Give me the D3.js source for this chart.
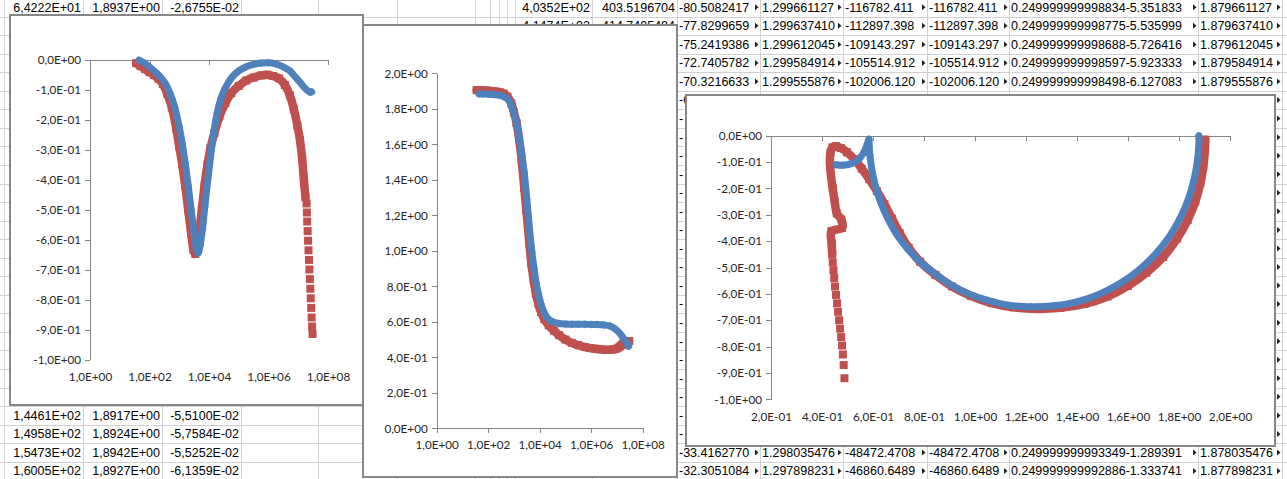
<!DOCTYPE html>
<html>
<head>
<meta charset="utf-8">
<script src="https://cdn.jsdelivr.net/npm/d3@7"></script>
<style>
body { margin: 0; background: #fff; }
svg { display: block; }
</style>
</head>
<body>
<script>
// ---- spreadsheet behind the charts ----
var colEdges = [4, 83, 162, 241, 318, 397, 475, 490, 499, 507, 515, 592, 677, 760, 843, 927, 1009, 1198, 1282, 1300];
var leftTopRow = ["6,4222E+01", "1,8937E+00", "-2,6755E-02"];
var leftBottomRows = [
	["1,4461E+02", "1,8917E+00", "-5,5100E-02"],
	["1,4958E+02", "1,8924E+00", "-5,7584E-02"],
	["1,5473E+02", "1,8942E+00", "-5,5252E-02"],
	["1,6005E+02", "1,8927E+00", "-6,1359E-02"]];
var midTopRows = [["4,0352E+02", "403.5196704"], ["4,1474E+02", "414.7405494"]];
var rightTopRows = [
	["-80.5082417", "1.299661127", "-116782.411", "-116782.411", "0.249999999998834-5.351833", "1.879661127"],
	["-77.8299659", "1.299637410", "-112897.398", "-112897.398", "0.249999999998775-5.535999", "1.879637410"],
	["-75.2419386", "1.299612045", "-109143.297", "-109143.297", "0.249999999998688-5.726416", "1.879612045"],
	["-72.7405782", "1.299584914", "-105514.912", "-105514.912", "0.249999999998597-5.923333", "1.879584914"],
	["-70.3216633", "1.299555876", "-102006.120", "-102006.120", "0.249999999998498-6.127083", "1.879555876"],
	["-67.9823851", "1.299524707", "-98612.8459", "-98612.8459", "0.249999999998393-6.337916", "1.879524707"]];
var rightBottomRows = [
	["-33.4162770", "1.298035476", "-48472.4708", "-48472.4708", "0.249999999993349-1.289391", "1.878035476"],
	["-32.3051084", "1.297898231", "-46860.6489", "-46860.6489", "0.249999999992886-1.333741", "1.877898231"]];

// ---- chart data: frequency sweeps (Hz), real and imaginary parts ----
var freqBlue = [44.7, 63.1, 100, 158, 251, 355, 501, 708, 1000, 1259, 1585, 1995, 2512, 3162, 3802, 4365, 5012, 6026, 7244, 8913,
	11220, 14130, 18620, 25120, 35480, 56230, 1.0e5, 1.778e5, 3.162e5, 5.623e5, 1.0e6, 1.778e6, 3.162e6, 5.248e6, 7.943e6, 1.148e7, 1.585e7, 2.089e7, 2.512e7, 2.818e7];
var imBlue = [-0.002, -0.010, -0.025, -0.042, -0.062, -0.083, -0.115, -0.160, -0.225, -0.280, -0.345, -0.420, -0.500, -0.580, -0.635, -0.645, -0.620, -0.565, -0.490, -0.410,
	-0.325, -0.250, -0.180, -0.130, -0.095, -0.062, -0.038, -0.024, -0.016, -0.012, -0.011, -0.015, -0.025, -0.038, -0.058, -0.076, -0.093, -0.104, -0.109, -0.108];
var reBlue = [1.884, 1.884, 1.882, 1.880, 1.878, 1.872, 1.862, 1.835, 1.775, 1.720, 1.645, 1.550, 1.440, 1.290, 1.160, 1.070, 0.990, 0.900, 0.820, 0.760,
	0.700, 0.660, 0.627, 0.608, 0.597, 0.590, 0.587, 0.586, 0.586, 0.586, 0.585, 0.585, 0.582, 0.577, 0.563, 0.543, 0.518, 0.493, 0.475, 0.462];

var freqRed = [35.5, 50.1, 70.8, 100, 141, 200, 282, 398, 562, 794, 1000, 1259, 1585, 1995, 2512, 3020, 3467, 3981, 4786, 5754,
	7079, 8913, 11220, 15140, 22390, 35480, 56230, 1.0e5, 1.778e5, 3.162e5, 5.623e5, 8.913e5, 1.413e6, 2.239e6, 3.548e6, 5.248e6, 7.079e6, 9.333e6, 1.148e7, 1.349e7, 1.549e7, 1.738e7];
var imRed = [-0.012, -0.022, -0.032, -0.042, -0.052, -0.064, -0.082, -0.115, -0.160, -0.230, -0.290, -0.350, -0.420, -0.500, -0.580, -0.635, -0.648, -0.630, -0.570, -0.500,
	-0.420, -0.350, -0.295, -0.245, -0.190, -0.145, -0.112, -0.088, -0.070, -0.060, -0.053, -0.051, -0.055, -0.063, -0.085, -0.120, -0.165, -0.220, -0.270, -0.330, -0.400, -0.460];
var reRed = [1.905, 1.904, 1.903, 1.902, 1.899, 1.897, 1.893, 1.886, 1.868, 1.830, 1.780, 1.720, 1.630, 1.510, 1.355, 1.230, 1.140, 1.040, 0.925, 0.840,
	0.760, 0.700, 0.655, 0.615, 0.580, 0.550, 0.525, 0.500, 0.481, 0.468, 0.458, 0.452, 0.448, 0.445, 0.442, 0.442, 0.444, 0.448, 0.455, 0.462, 0.470, 0.476];
// last red points are far apart, markers only
var freqRedTail = [1.905e7, 1.950e7, 1.995e7, 2.065e7, 2.138e7, 2.213e7, 2.291e7, 2.371e7, 2.455e7, 2.541e7, 2.630e7, 2.723e7, 2.818e7, 2.917e7, 3.020e7];
var imRedTail = [-0.480, -0.510, -0.540, -0.572, -0.604, -0.636, -0.668, -0.700, -0.732, -0.764, -0.796, -0.828, -0.860, -0.890, -0.915];
var reRedTail = [0.478, 0.480, 0.482, 0.484, 0.485, 0.486, 0.487, 0.488, 0.489, 0.490, 0.490, 0.491, 0.491, 0.492, 0.492];

// Nyquist plot points (Re, Im)
var nyqBlueRe = [1.878, 1.877, 1.870, 1.858, 1.837, 1.806, 1.764, 1.707, 1.642, 1.570, 1.490, 1.400, 1.310, 1.220, 1.130, 1.050, 0.975, 0.905, 0.840, 0.780,
	0.730, 0.690, 0.660, 0.635, 0.617, 0.603, 0.594, 0.588, 0.585, 0.584, 0.578, 0.567, 0.550, 0.530, 0.505, 0.480, 0.455];
var nyqBlueIm = [0.000, -0.050, -0.110, -0.170, -0.240, -0.310, -0.380, -0.450, -0.510, -0.560, -0.600, -0.630, -0.645, -0.649, -0.643, -0.625, -0.600, -0.565, -0.522, -0.475,
	-0.422, -0.370, -0.318, -0.265, -0.215, -0.165, -0.120, -0.075, -0.040, -0.013, -0.030, -0.058, -0.083, -0.100, -0.109, -0.112, -0.110];
var nyqRedRe = [1.903, 1.901, 1.895, 1.884, 1.864, 1.834, 1.793, 1.738, 1.672, 1.600, 1.520, 1.430, 1.335, 1.240, 1.150, 1.065, 0.985, 0.910, 0.845, 0.785,
	0.740, 0.705, 0.675, 0.645, 0.615, 0.585, 0.556, 0.527, 0.498, 0.474, 0.455, 0.441, 0.433, 0.431, 0.435, 0.442, 0.450, 0.458, 0.476, 0.479, 0.437, 0.438, 0.440];
var nyqRedIm = [-0.015, -0.060, -0.120, -0.180, -0.250, -0.320, -0.390, -0.460, -0.520, -0.570, -0.610, -0.638, -0.653, -0.657, -0.651, -0.635, -0.608, -0.572, -0.528, -0.478,
	-0.425, -0.370, -0.315, -0.260, -0.210, -0.165, -0.125, -0.090, -0.063, -0.047, -0.040, -0.044, -0.065, -0.100, -0.150, -0.200, -0.250, -0.295, -0.318, -0.350, -0.362, -0.410, -0.450];
var nyqRedTailRe = [0.442, 0.445, 0.448, 0.451, 0.455, 0.459, 0.463, 0.467, 0.471, 0.475, 0.479, 0.482, 0.485, 0.488];
var nyqRedTailIm = [-0.480, -0.510, -0.540, -0.572, -0.604, -0.636, -0.668, -0.700, -0.732, -0.764, -0.796, -0.830, -0.870, -0.920];

// axis ticks
var freqTicks = [1, 1e2, 1e4, 1e6, 1e8];
var imTicks = [0, -0.1, -0.2, -0.3, -0.4, -0.5, -0.6, -0.7, -0.8, -0.9, -1.0];
var reTicks = [0, 0.2, 0.4, 0.6, 0.8, 1.0, 1.2, 1.4, 1.6, 1.8, 2.0];
var nyqReTicks = [0.2, 0.4, 0.6, 0.8, 1.0, 1.2, 1.4, 1.6, 1.8, 2.0];

var blue = "#4F81BD", red = "#C0504D";

var svg = d3.select("body").append("svg").attr("width", 1287).attr("height", 479);

// --- sheet grid ---
var rowPitch = 18.55, rowOffset = -2;
function rowY(i) { return rowOffset + rowPitch * i; }
var sheet = svg.append("g").attr("font-family", "'Liberation Sans', Arial, sans-serif").attr("font-size", 12.5);
for (var r = 0; r <= 27; r++) {
	sheet.append("line").attr("x1", 0).attr("x2", 1287)
		.attr("y1", Math.round(rowY(r)) + 0.5).attr("y2", Math.round(rowY(r)) + 0.5)
		.style("stroke", "#d0d0d0").style("stroke-width", 1);
}
colEdges.forEach(function(cx) {
	sheet.append("line").attr("x1", cx + 0.5).attr("x2", cx + 0.5).attr("y1", 0).attr("y2", 479)
		.style("stroke", "#d0d0d0").style("stroke-width", 1);
});
var defs = svg.append("defs");
function putCell(row, col, txt, alignRight, arrow) {
	var x0 = colEdges[col], x1 = colEdges[col + 1];
	var cy = rowY(row) + rowPitch / 2;
	var t = sheet.append("text").attr("y", cy + 4.4).attr("fill", "#000").text(txt);
	if (alignRight) t.attr("x", x1 - 2).attr("text-anchor", "end");
	else t.attr("x", x0 + 2);
	if (arrow) {
		var id = "clip" + row + "_" + col;
		defs.append("clipPath").attr("id", id).append("rect")
			.attr("x", x0).attr("y", rowY(row)).attr("width", x1 - x0 - 5).attr("height", rowPitch);
		t.attr("clip-path", "url(#" + id + ")");
		sheet.append("path")
			.attr("d", "M" + (x1 - 5) + "," + (cy - 3) + "L" + (x1 - 1.5) + "," + cy + "L" + (x1 - 5) + "," + (cy + 3) + "Z")
			.attr("fill", "#222");
	}
}
leftTopRow.forEach(function(v, i) { putCell(0, i, v, true, false); });
leftBottomRows.forEach(function(row, j) { row.forEach(function(v, i) { putCell(22 + j, i, v, true, false); }); });
midTopRows.forEach(function(row, j) { row.forEach(function(v, i) { putCell(j, 10 + i, v, true, false); }); });
rightTopRows.forEach(function(row, j) { row.forEach(function(v, i) { putCell(j, 12 + i, v, false, true); }); });
rightBottomRows.forEach(function(row, j) { row.forEach(function(v, i) { putCell(24 + j, 12 + i, v, false, true); }); });
// rows hidden behind the third chart: only the leading sign and the last overflow marker show
d3.range(6, 24).forEach(function(r) {
	putCell(r, 12, "-", false, false);
	putCell(r, 17, "", false, true);
});

// --- charts ---
function sci(v) {
	if (v === 0) return "0,0E+00";
	var e = Math.floor(Math.log10(Math.abs(v)) + 1e-9);
	var s = (v / Math.pow(10, e)).toFixed(1);
	if (Math.abs(parseFloat(s)) >= 10) { e += 1; s = (v / Math.pow(10, e)).toFixed(1); }
	return s.replace(".", ",") + "E" + (e < 0 ? "-" : "+") + (Math.abs(e) < 10 ? "0" : "") + Math.abs(e);
}
var diamond = d3.symbolDiamond2 || d3.symbolDiamond;

function drawChart(cfg) {
	var g = svg.append("g");
	var b = cfg.box;
	g.append("rect").attr("x", b[0]).attr("y", b[1]).attr("width", b[2] - b[0]).attr("height", b[3] - b[1])
		.attr("fill", "#fff").style("stroke", "#878787").style("stroke-width", 2);
	var x = cfg.x, y = cfg.y;
	var ya = g.append("g").attr("transform", "translate(" + x.range()[0] + ",0)")
		.call(d3.axisLeft(y).tickValues(cfg.yTicks).tickFormat(sci).tickSize(5).tickSizeOuter(0).tickPadding(4));
	var xa = g.append("g").attr("transform", "translate(0," + y(0) + ")")
		.call(d3.axisBottom(x).tickValues(cfg.xTicks).tickFormat("").tickSize(5).tickSizeOuter(0));
	var xl = g.append("g").attr("transform", "translate(0," + y.range()[0] + ")")
		.call(d3.axisBottom(x).tickValues(cfg.xTicks).tickFormat(sci).tickSize(0).tickPadding(cfg.xPad));
	xl.select(".domain").remove();
	[ya, xa, xl].forEach(function(a) {
		a.attr("font-family", "Lato, 'Open Sans', sans-serif").attr("font-size", 11.7);
		a.selectAll("path, line").style("stroke", "#868686").style("shape-rendering", "crispEdges");
		a.selectAll("text").attr("fill", "#262626");
	});
	cfg.series.forEach(function(s) {
		var line = d3.line().x(function(d) { return x(d[0]); }).y(function(d) { return y(d[1]); }).curve(cfg.curve);
		g.append("path").datum(s.pts).attr("d", line)
			.attr("fill", "none").style("stroke", s.color).style("stroke-width", s.width)
			.style("stroke-linejoin", "round").style("stroke-linecap", "round");
		g.selectAll(null).data(s.pts.concat(s.tail || [])).enter().append("path")
			.attr("transform", function(d) { return "translate(" + x(d[0]) + "," + y(d[1]) + ")"; })
			.attr("d", d3.symbol().type(s.shape).size(s.size))
			.attr("fill", s.color);
	});
}
function zip(a, b) { return a.map(function(v, i) { return [v, b[i]]; }); }

// chart 1: imaginary part vs frequency
drawChart({
	box: [10, 15, 363, 405],
	x: d3.scaleLog().domain([1, 1e8]).range([90, 328]),
	y: d3.scaleLinear().domain([-1, 0]).range([359.5, 59.5]),
	xTicks: freqTicks, yTicks: imTicks, xPad: 13,
	curve: d3.curveMonotoneX,
	series: [
		{ pts: zip(freqRed, imRed), tail: zip(freqRedTail, imRedTail), color: red, width: 8.5, shape: d3.symbolSquare, size: 64 },
		{ pts: zip(freqBlue, imBlue), color: blue, width: 7, shape: diamond, size: 40 }]
});

// chart 2: real part vs frequency
drawChart({
	box: [363, 25, 677, 477],
	x: d3.scaleLog().domain([1, 1e8]).range([436.7, 642.7]),
	y: d3.scaleLinear().domain([0, 2]).range([428.3, 73.3]),
	xTicks: freqTicks, yTicks: reTicks, xPad: 12.5,
	curve: d3.curveMonotoneX,
	series: [
		{ pts: zip(freqRed, reRed), tail: zip(freqRedTail, reRedTail), color: red, width: 8.5, shape: d3.symbolSquare, size: 64 },
		{ pts: zip(freqBlue, reBlue), color: blue, width: 7, shape: diamond, size: 40 }]
});

// chart 3: Nyquist plot
drawChart({
	box: [686, 95, 1275, 446],
	x: d3.scaleLinear().domain([0.2, 2.0]).range([771, 1230]),
	y: d3.scaleLinear().domain([-1, 0]).range([399.3, 135.7]),
	xTicks: nyqReTicks, yTicks: imTicks, xPad: 13.5,
	curve: d3.curveCatmullRom.alpha(0.5),
	series: [
		{ pts: zip(nyqRedRe, nyqRedIm), tail: zip(nyqRedTailRe, nyqRedTailIm), color: red, width: 8.5, shape: d3.symbolSquare, size: 64 },
		{ pts: zip(nyqBlueRe, nyqBlueIm), color: blue, width: 7, shape: diamond, size: 40 }]
});
</script>
</body>
</html>
